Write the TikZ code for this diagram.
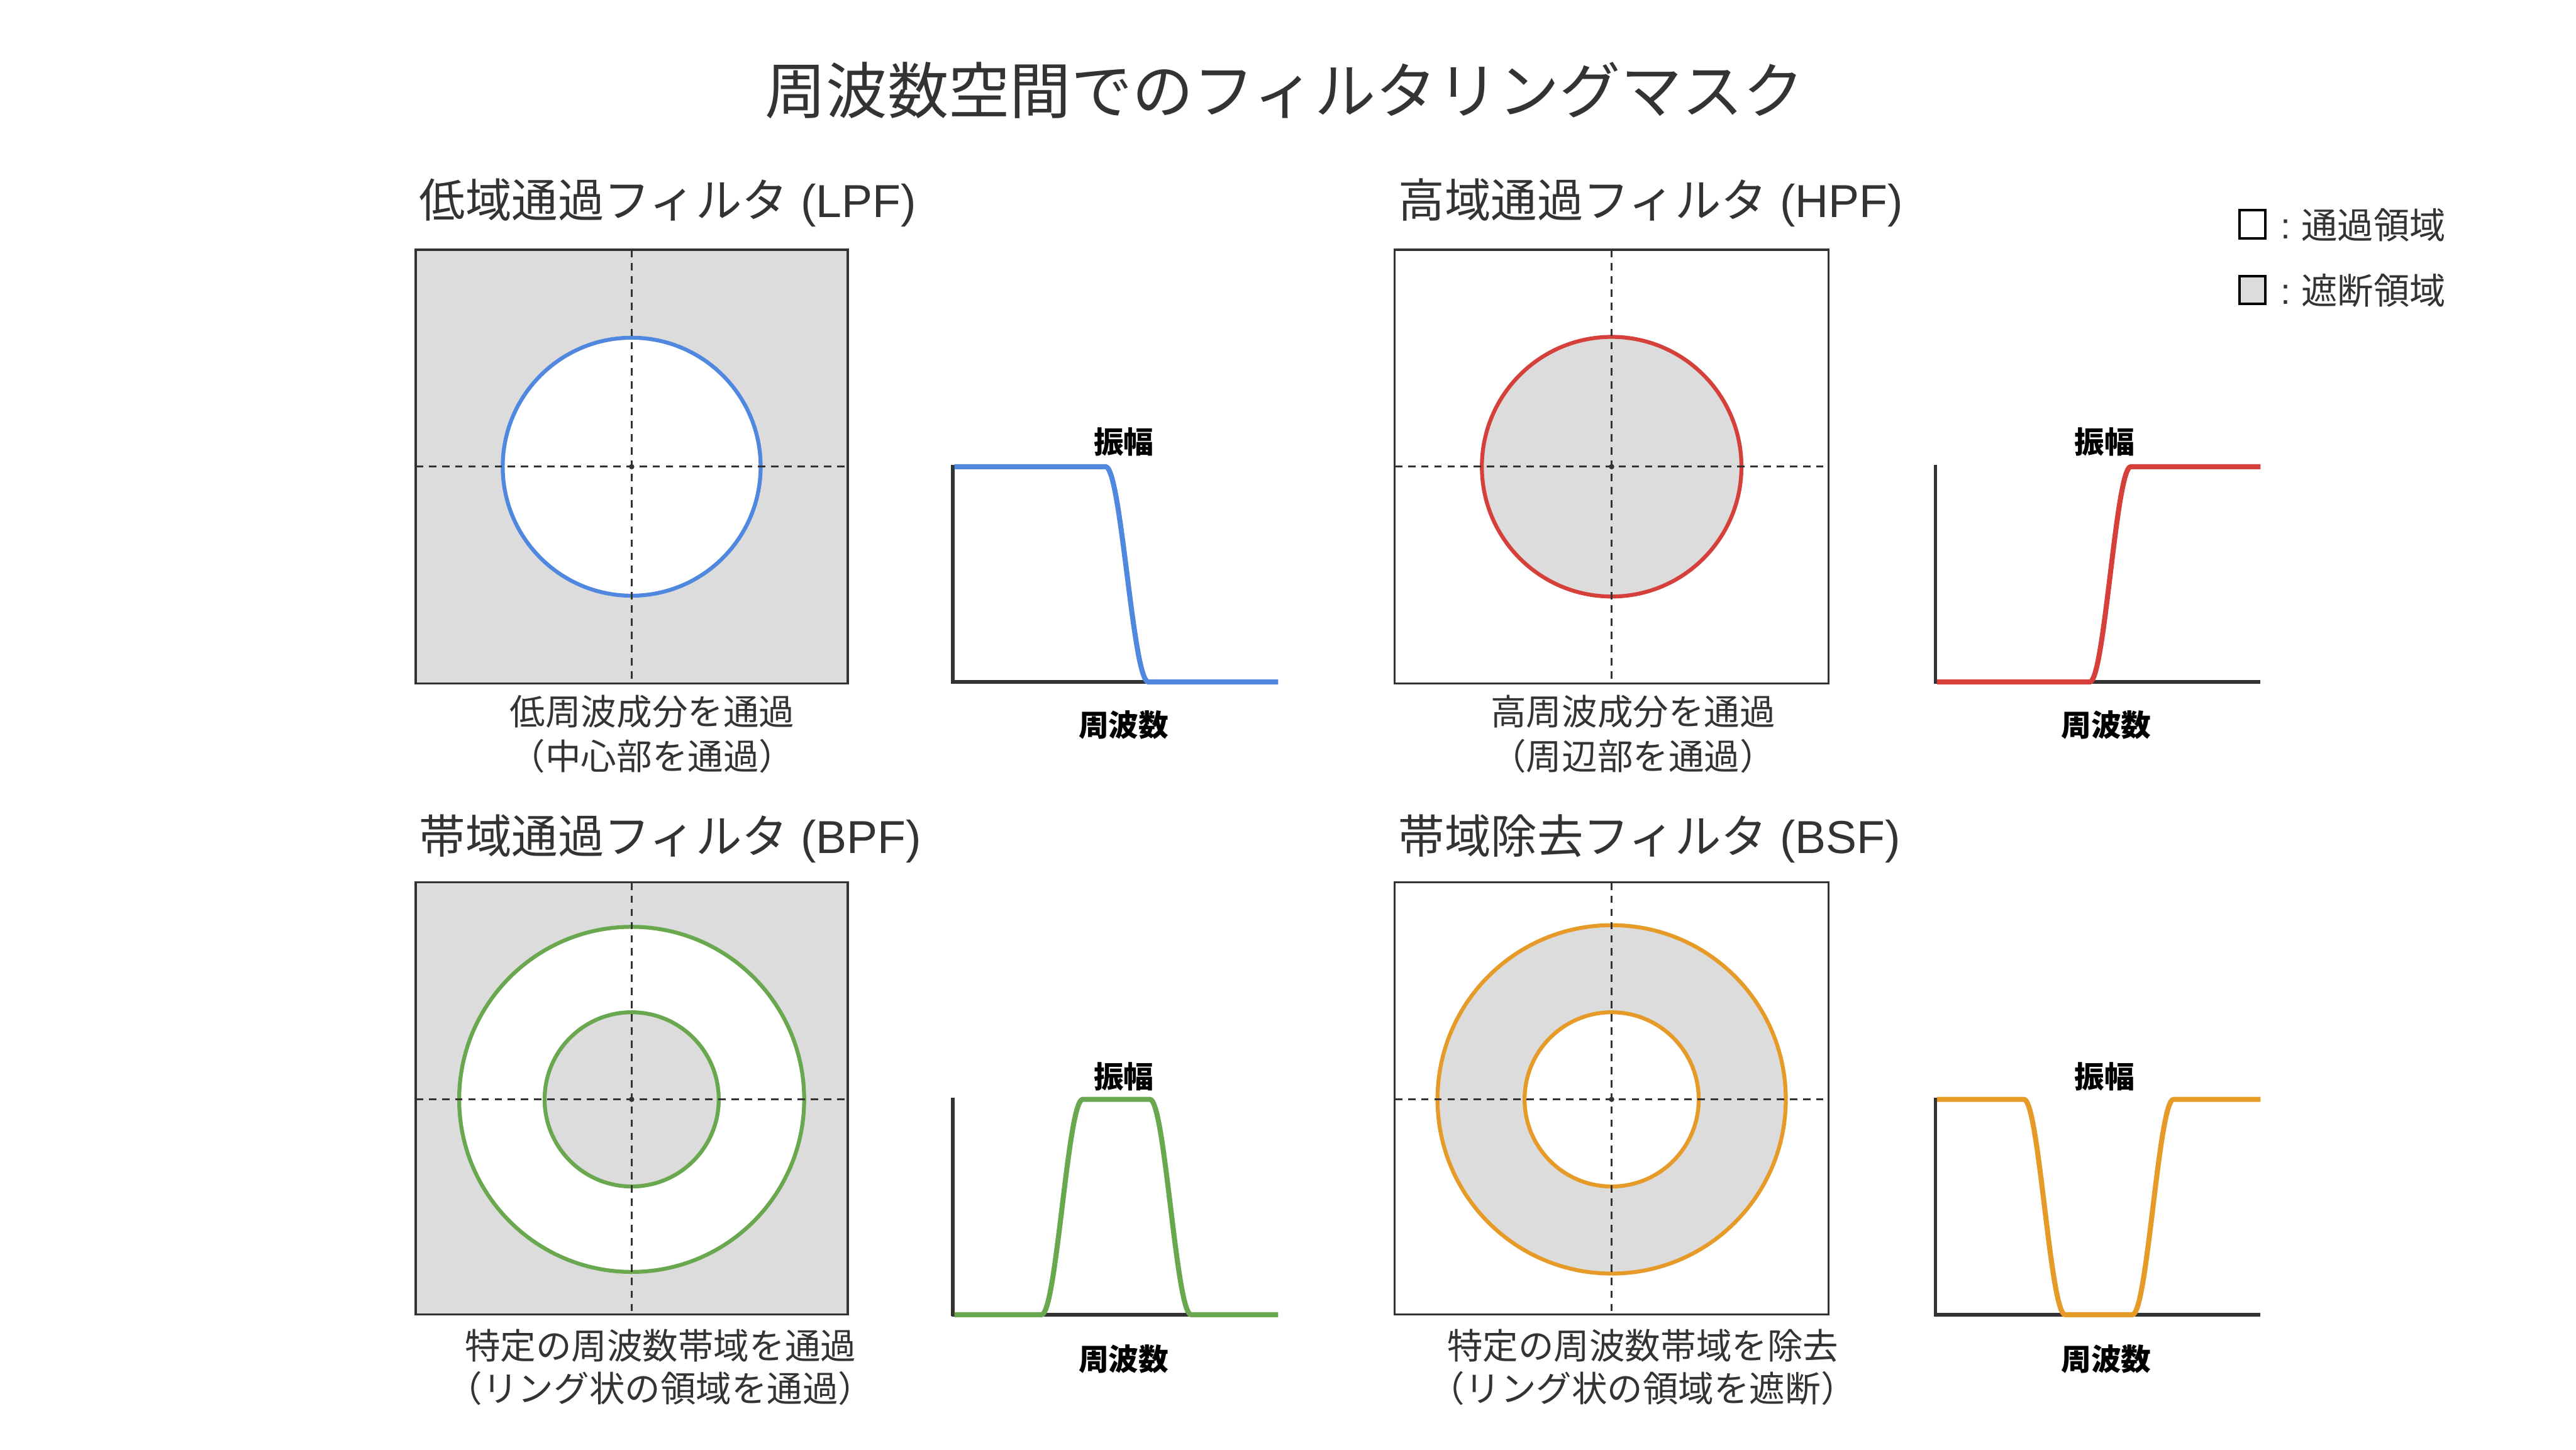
\documentclass[tikz,border=0pt]{standalone}
\usepackage{fontspec}
\setmainfont{Noto Sans CJK JP}
\newfontfamily\lat{Liberation Sans}
\definecolor{dk}{HTML}{333333}
\definecolor{maskgray}{HTML}{DCDCDC}
\definecolor{cblue}{HTML}{5088E0}
\definecolor{cred}{HTML}{D5413A}
\definecolor{cgreen}{HTML}{6AA84F}
\definecolor{corange}{HTML}{E69A27}
\begin{document}
\begin{tikzpicture}[x=0.25mm,y=-0.25mm,
  ttl/.style={font=\fontsize{26.5}{30}\selectfont, text=dk, inner sep=0},
  subttl/.style={font=\fontsize{20}{23}\selectfont, text=dk, anchor=west, inner sep=0},
  captxt/.style={font=\fontsize{15.4}{18}\selectfont, text=dk, inner sep=0},
  glab/.style={font=\bfseries\fontsize{13}{15}\selectfont, text=black, inner sep=0},
  legtxt/.style={font=\fontsize{15.6}{18}\selectfont, text=dk, anchor=west, inner sep=0},
  panel/.style={draw=dk, line width=0.9pt},
  cross/.style={dk, line width=0.8pt, dash pattern=on 3.2pt off 2.5pt},
  axisline/.style={dk, line width=1.5pt},
  resp/.style={line width=2.2pt, line join=round},
  ring/.style={line width=1.7pt}]
\useasboundingbox (0,0) rectangle (1568,882);

% title
\node[ttl] (title) at (782,55) {周波数空間でのフィルタリングマスク};

% subtitles
\node[subttl] (tlpf) at (255,123.5) {低域通過フィルタ{\lat\ (LPF)}};
\node[subttl] (thpf) at (851,123.5) {高域通過フィルタ{\lat\ (HPF)}};
\node[subttl] (tbpf) at (255,510.5) {帯域通過フィルタ{\lat\ (BPF)}};
\node[subttl] (tbsf) at (851,510.5) {帯域除去フィルタ{\lat\ (BSF)}};

% ---------- LPF mask ----------
\fill[maskgray] (253,152) rectangle (516,416);
\draw[ring, cblue, fill=white] (384.5,284) circle (78.5);
\draw[cross] (253,284) -- (516,284);
\draw[cross] (384.5,152) -- (384.5,416);
\fill[dk] (384.5,284) circle (1.6);
\draw[panel] (253,152) rectangle (516,416);

% ---------- HPF mask ----------
\fill[white] (849,152) rectangle (1113,416);
\draw[ring, cred, fill=maskgray] (981,284) circle (79);
\draw[cross] (849,284) -- (1113,284);
\draw[cross] (981,152) -- (981,416);
\fill[dk] (981,284) circle (1.6);
\draw[panel] (849,152) rectangle (1113,416);

% ---------- BPF mask ----------
\fill[maskgray] (253,537) rectangle (516,800);
\draw[ring, cgreen, fill=white] (384.5,669) circle (105);
\draw[ring, cgreen, fill=maskgray] (384.5,669) circle (53);
\draw[cross] (253,669) -- (516,669);
\draw[cross] (384.5,537) -- (384.5,800);
\fill[dk] (384.5,669) circle (1.6);
\draw[panel] (253,537) rectangle (516,800);

% ---------- BSF mask ----------
\fill[white] (849,537) rectangle (1113,800);
\draw[ring, corange, fill=maskgray] (981,669) circle (106);
\draw[ring, corange, fill=white] (981,669) circle (53);
\draw[cross] (849,669) -- (1113,669);
\draw[cross] (981,537) -- (981,800);
\fill[dk] (981,669) circle (1.6);
\draw[panel] (849,537) rectangle (1113,800);

% captions
\node[captxt] (clpf1) at (397,433) {低周波成分を通過};
\node[captxt] (clpf2) at (397,460) {（中心部を通過）};
\node[captxt] (chpf1) at (994,433) {高周波成分を通過};
\node[captxt] (chpf2) at (994,460) {（周辺部を通過）};
\node[captxt] (cbpf1) at (402,819) {特定の周波数帯域を通過};
\node[captxt] (cbpf2) at (402,845) {（リング状の領域を通過）};
\node[captxt] (cbsf1) at (1000,819) {特定の周波数帯域を除去};
\node[captxt] (cbsf2) at (1000,845) {（リング状の領域を遮断）};

% ---------- response graphs ----------
% LPF
\draw[axisline] (580,283) -- (580,416);
\draw[axisline] (579,415) -- (778,415);
\draw[resp, cblue] (581,284) -- (673,284)
  -- plot[domain=0:1,samples=30] ({673+26*\x},{284+131*(1-cos(180*\x))/2})
  -- (778,415);
\node[glab] (alpf) at (684,269) {振幅};
\node[glab] (flpf) at (684,441) {周波数};

% HPF
\draw[axisline] (1178,283) -- (1178,416);
\draw[axisline] (1177,415) -- (1376,415);
\draw[resp, cred] (1179,415) -- (1272,415)
  -- plot[domain=0:1,samples=30] ({1272+25*\x},{415-131*(1-cos(180*\x))/2})
  -- (1376,284);
\node[glab] (ahpf) at (1281,269) {振幅};
\node[glab] (fhpf) at (1282,441) {周波数};

% BPF
\draw[axisline] (580,668) -- (580,801);
\draw[axisline] (579,800) -- (778,800);
\draw[resp, cgreen] (581,800) -- (634,800)
  -- plot[domain=0:1,samples=30] ({634+25*\x},{800-131*(1-cos(180*\x))/2})
  -- (700,669)
  -- plot[domain=0:1,samples=30] ({700+25*\x},{669+131*(1-cos(180*\x))/2})
  -- (778,800);
\node[glab] (abpf) at (684,655) {振幅};
\node[glab] (fbpf) at (684,827) {周波数};

% BSF
\draw[axisline] (1178,668) -- (1178,801);
\draw[axisline] (1177,800) -- (1376,800);
\draw[resp, corange] (1179,669) -- (1232,669)
  -- plot[domain=0:1,samples=30] ({1232+25*\x},{669+131*(1-cos(180*\x))/2})
  -- (1298,800)
  -- plot[domain=0:1,samples=30] ({1298+25*\x},{800-131*(1-cos(180*\x))/2})
  -- (1376,669);
\node[glab] (absf) at (1281,655) {振幅};
\node[glab] (fbsf) at (1282,827) {周波数};

% legend
\draw[black, line width=1.1pt, fill=white] (1363,128) rectangle (1379,145);
\node[legtxt] (lpass) at (1388,137) {{\lat :} 通過領域};
\draw[black, line width=1.1pt, fill=maskgray] (1363,168) rectangle (1379,185);
\node[legtxt] (lstop) at (1388,177) {{\lat :} 遮断領域};
\end{tikzpicture}
\end{document}
